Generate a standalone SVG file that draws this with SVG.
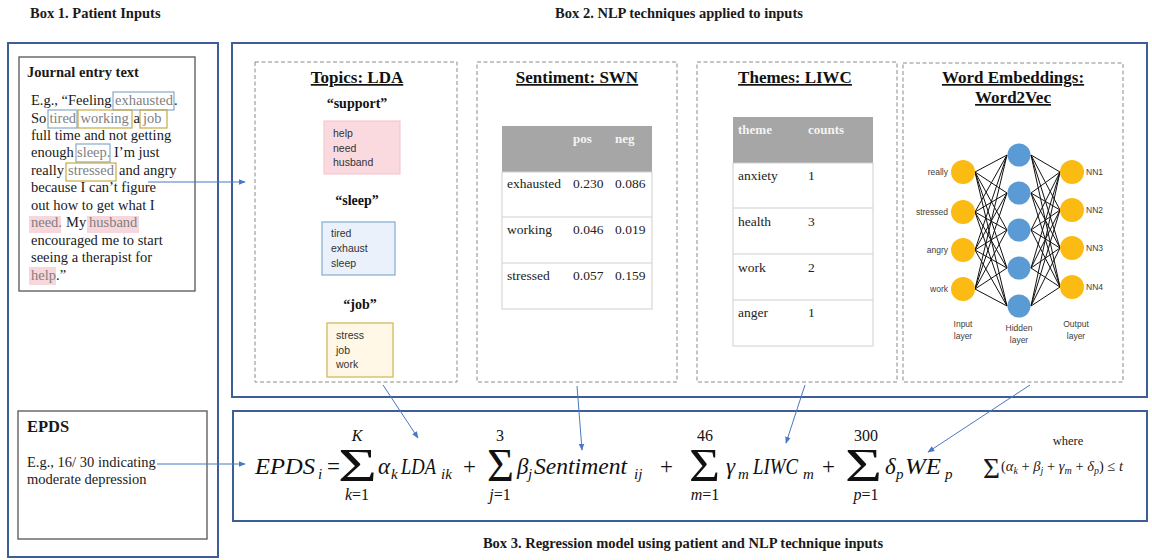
<svg xmlns="http://www.w3.org/2000/svg" width="1152" height="560" viewBox="0 0 1152 560">
<style>
.bt{font-family:"Liberation Serif",serif;font-weight:bold;fill:#1a1a1a}
.st{font-family:"Liberation Serif",serif;fill:#1a1a1a}
.outer{fill:none;stroke:#3d5f98;stroke-width:2}
.inner{fill:#fff;stroke:#555;stroke-width:1.3}
.dash{fill:none;stroke:#8a8a8a;stroke-width:1;stroke-dasharray:4 2.5}
.ttl{font-family:"Liberation Serif",serif;font-weight:bold;font-size:17px;text-anchor:middle;text-decoration:underline;fill:#111}
.tq{font-family:"Liberation Serif",serif;font-weight:bold;font-size:14px;text-anchor:middle;fill:#111}
.wl{font-family:"Liberation Sans",Arial,sans-serif;font-size:10.5px;fill:#333}
.jt{font-family:"Liberation Serif",serif;font-size:14.5px;fill:#1a1a1a}
.hl{fill:#7f7f7f}
.hb{fill:none;stroke:#86a9cc;stroke-width:1.2}
.hy{fill:none;stroke:#c8aa45;stroke-width:1.2}
.hp{fill:#f8d7dc;stroke:none}
.tb{font-family:"Liberation Serif",serif;font-size:13.5px;fill:#222}
.th{font-family:"Liberation Serif",serif;font-weight:bold;font-size:13px;fill:#f4f4f4}
.grid{stroke:#cfcfcf;stroke-width:1;fill:none}
.nl{font-family:"Liberation Sans",Arial,sans-serif;font-size:8.5px;fill:#404040}
.inp{fill:#fbbb12}
.hid{fill:#5b9bd5}
.nn line{stroke:#111;stroke-width:1}
.eq{font-family:"Liberation Serif",serif;font-style:italic;font-size:23px;fill:#111}
.eqs{font-family:"Liberation Serif",serif;font-style:italic;font-size:15px;fill:#111}
.eqn{font-family:"Liberation Serif",serif;font-size:23px;fill:#111}
.sig{font-family:"Liberation Serif",serif;font-size:46px;fill:#111}
.lim{font-family:"Liberation Serif",serif;font-size:16px;fill:#111;text-anchor:middle}
.limi{font-family:"Liberation Serif",serif;font-style:italic;font-size:16px;fill:#111;text-anchor:middle}
.con{stroke:#4a78c2;stroke-width:1;fill:none;marker-end:url(#ah)}
</style>
<defs>
<marker id="ah" viewBox="0 0 10 10" refX="9" refY="5" markerWidth="7" markerHeight="7" orient="auto" markerUnits="userSpaceOnUse">
<path d="M0,1 L10,5 L0,9 z" fill="#4a78c2"/>
</marker>
</defs>
<rect width="1152" height="560" fill="#fff"/>

<!-- Titles -->
<text class="bt" x="30" y="18" font-size="14.5">Box 1. Patient Inputs</text>
<text class="bt" x="679" y="18" font-size="14.5" text-anchor="middle">Box 2. NLP techniques applied to inputs</text>
<text class="bt" x="683" y="548" font-size="14.5" text-anchor="middle">Box 3. Regression model using patient and NLP technique inputs</text>

<!-- Box 1 -->
<g id="box1">
<rect class="outer" x="8" y="43" width="210" height="514"/>
</g>

<g id="journal">
<rect class="inner" x="19" y="57" width="176" height="234"/>
<text class="bt" x="27" y="77" font-size="14.5">Journal entry text</text>
<rect class="hb" x="113" y="92" width="61" height="18"/>
<rect class="hb" x="48" y="110" width="29" height="18"/>
<rect class="hy" x="78" y="110" width="54" height="18"/>
<rect class="hy" x="140" y="110" width="27" height="18"/>
<rect class="hb" x="76" y="144" width="34" height="18"/>
<rect class="hy" x="66" y="163" width="50" height="18"/>
<rect class="hp" x="29" y="216" width="32" height="17"/>
<rect class="hp" x="87" y="216" width="52" height="17"/>
<rect class="hp" x="29" y="267" width="27" height="18"/>
<text class="jt" y="105"><tspan x="31">E.g., “Feeling</tspan><tspan x="115" class="hl">exhausted</tspan><tspan x="174">.</tspan></text>
<text class="jt" y="123"><tspan x="31">So</tspan><tspan x="49.5" class="hl">tired</tspan><tspan x="80.5" class="hl">working</tspan><tspan x="133.5">a</tspan><tspan x="143" class="hl">job</tspan></text>
<text class="jt" x="31" y="140">full time and not getting</text>
<text class="jt" y="157"><tspan x="31">enough</tspan><tspan x="77" class="hl">sleep.</tspan><tspan x="114">I’m just</tspan></text>
<text class="jt" y="175"><tspan x="31">really</tspan><tspan x="68" class="hl">stressed</tspan><tspan x="119">and angry</tspan></text>
<text class="jt" x="31" y="192">because I can’t figure</text>
<text class="jt" x="31" y="210">out how to get what I</text>
<text class="jt" y="227"><tspan x="31" class="hl">need.</tspan><tspan x="66">My</tspan><tspan x="89" class="hl">husband</tspan></text>
<text class="jt" x="31" y="245">encouraged me to start</text>
<text class="jt" x="31" y="262">seeing a therapist for</text>
<text class="jt" y="280"><tspan x="31" class="hl">help</tspan><tspan x="56">.”</tspan></text>
</g>

<g id="epds">
<rect class="inner" x="18" y="411" width="189" height="128"/>
<text class="bt" x="27" y="432" font-size="16.5">EPDS</text>
<text class="jt" x="27" y="467">E.g., 16/ 30 indicating</text>
<text class="jt" x="27" y="484">moderate depression</text>
</g>

<!-- Box 2 -->
<g id="box2">
<rect class="outer" x="232" y="43" width="915" height="354"/>
</g>

<g id="lda">
<rect class="dash" x="255" y="62" width="202" height="320"/>
<text class="ttl" x="357" y="83">Topics: LDA</text>
<text class="tq" x="357" y="108">“support”</text>
<rect x="324" y="121" width="76" height="53" fill="#fadadf" stroke="#f3c1c9"/>
<text class="wl" x="333" y="137">help</text>
<text class="wl" x="333" y="152">need</text>
<text class="wl" x="333" y="166">husband</text>
<text class="tq" x="357" y="205">“sleep”</text>
<rect x="322" y="222" width="73" height="53" fill="#eaf1fa" stroke="#8db2d4" stroke-width="1.3"/>
<text class="wl" x="331" y="237">tired</text>
<text class="wl" x="331" y="252">exhaust</text>
<text class="wl" x="331" y="267">sleep</text>
<text class="tq" x="360" y="309">“job”</text>
<rect x="327" y="323" width="66" height="54" fill="#fff8e6" stroke="#d3b95e" stroke-width="1.3"/>
<text class="wl" x="336" y="339">stress</text>
<text class="wl" x="336" y="354">job</text>
<text class="wl" x="336" y="368">work</text>
</g>

<g id="swn">
<rect class="dash" x="477" y="62" width="200" height="320"/>
<text class="ttl" x="577" y="83">Sentiment: SWN</text>
<rect x="502" y="126" width="150" height="46" fill="#a6a6a6"/>
<rect class="grid" x="502" y="172" width="150" height="137"/>
<line class="grid" x1="502" y1="217" x2="652" y2="217"/>
<line class="grid" x1="502" y1="263" x2="652" y2="263"/>
<text class="th" x="573" y="143">pos</text>
<text class="th" x="615" y="143">neg</text>
<text class="tb" x="507" y="188">exhausted</text>
<text class="tb" x="573" y="188">0.230</text>
<text class="tb" x="615" y="188">0.086</text>
<text class="tb" x="507" y="234">working</text>
<text class="tb" x="573" y="234">0.046</text>
<text class="tb" x="615" y="234">0.019</text>
<text class="tb" x="507" y="280">stressed</text>
<text class="tb" x="573" y="280">0.057</text>
<text class="tb" x="615" y="280">0.159</text>
</g>

<g id="liwc">
<rect class="dash" x="697" y="62" width="200" height="320"/>
<text class="ttl" x="795" y="83">Themes: LIWC</text>
<rect x="733" y="117" width="140" height="46" fill="#a6a6a6"/>
<rect class="grid" x="733" y="163" width="140" height="183"/>
<line class="grid" x1="733" y1="208" x2="873" y2="208"/>
<line class="grid" x1="733" y1="254" x2="873" y2="254"/>
<line class="grid" x1="733" y1="300" x2="873" y2="300"/>
<text class="th" x="738" y="134">theme</text>
<text class="th" x="808" y="134">counts</text>
<text class="tb" x="738" y="180">anxiety</text>
<text class="tb" x="808" y="180">1</text>
<text class="tb" x="738" y="226">health</text>
<text class="tb" x="808" y="226">3</text>
<text class="tb" x="738" y="272">work</text>
<text class="tb" x="808" y="272">2</text>
<text class="tb" x="738" y="317">anger</text>
<text class="tb" x="808" y="317">1</text>
</g>

<g id="word2vec">
<rect class="dash" x="903" y="63" width="220" height="319"/>
<text class="ttl" x="1013" y="83">Word Embeddings:</text>
<text class="ttl" x="1013" y="103">Word2Vec</text>
<g class="nn">
<line x1="975" y1="172" x2="1007" y2="155"/><line x1="975" y1="172" x2="1007" y2="193"/><line x1="975" y1="172" x2="1007" y2="230"/><line x1="975" y1="172" x2="1007" y2="268"/><line x1="975" y1="172" x2="1007" y2="306"/>
<line x1="975" y1="212" x2="1007" y2="155"/><line x1="975" y1="212" x2="1007" y2="193"/><line x1="975" y1="212" x2="1007" y2="230"/><line x1="975" y1="212" x2="1007" y2="268"/><line x1="975" y1="212" x2="1007" y2="306"/>
<line x1="975" y1="250" x2="1007" y2="155"/><line x1="975" y1="250" x2="1007" y2="193"/><line x1="975" y1="250" x2="1007" y2="230"/><line x1="975" y1="250" x2="1007" y2="268"/><line x1="975" y1="250" x2="1007" y2="306"/>
<line x1="975" y1="289" x2="1007" y2="155"/><line x1="975" y1="289" x2="1007" y2="193"/><line x1="975" y1="289" x2="1007" y2="230"/><line x1="975" y1="289" x2="1007" y2="268"/><line x1="975" y1="289" x2="1007" y2="306"/>
<line x1="1031" y1="155" x2="1060" y2="172"/><line x1="1031" y1="155" x2="1060" y2="210"/><line x1="1031" y1="155" x2="1060" y2="248"/><line x1="1031" y1="155" x2="1060" y2="287"/>
<line x1="1031" y1="193" x2="1060" y2="172"/><line x1="1031" y1="193" x2="1060" y2="210"/><line x1="1031" y1="193" x2="1060" y2="248"/><line x1="1031" y1="193" x2="1060" y2="287"/>
<line x1="1031" y1="230" x2="1060" y2="172"/><line x1="1031" y1="230" x2="1060" y2="210"/><line x1="1031" y1="230" x2="1060" y2="248"/><line x1="1031" y1="230" x2="1060" y2="287"/>
<line x1="1031" y1="268" x2="1060" y2="172"/><line x1="1031" y1="268" x2="1060" y2="210"/><line x1="1031" y1="268" x2="1060" y2="248"/><line x1="1031" y1="268" x2="1060" y2="287"/>
<line x1="1031" y1="306" x2="1060" y2="172"/><line x1="1031" y1="306" x2="1060" y2="210"/><line x1="1031" y1="306" x2="1060" y2="248"/><line x1="1031" y1="306" x2="1060" y2="287"/>
</g>
<circle class="inp" cx="963" cy="172" r="12"/><circle class="inp" cx="963" cy="212" r="12"/><circle class="inp" cx="963" cy="250" r="12"/><circle class="inp" cx="963" cy="289" r="12"/>
<circle class="hid" cx="1019" cy="155" r="11.5"/><circle class="hid" cx="1019" cy="193" r="11.5"/><circle class="hid" cx="1019" cy="230" r="11.5"/><circle class="hid" cx="1019" cy="268" r="11.5"/><circle class="hid" cx="1019" cy="306" r="11.5"/>
<circle class="inp" cx="1072" cy="172" r="12"/><circle class="inp" cx="1072" cy="210" r="12"/><circle class="inp" cx="1072" cy="248" r="12"/><circle class="inp" cx="1072" cy="287" r="12"/>
<text class="nl" x="948" y="175" text-anchor="end">really</text>
<text class="nl" x="948" y="215" text-anchor="end">stressed</text>
<text class="nl" x="948" y="253" text-anchor="end">angry</text>
<text class="nl" x="948" y="292" text-anchor="end">work</text>
<text class="nl" x="1086" y="175">NN1</text>
<text class="nl" x="1086" y="213">NN2</text>
<text class="nl" x="1086" y="251">NN3</text>
<text class="nl" x="1086" y="290">NN4</text>
<text class="nl" x="963" y="327" text-anchor="middle">Input</text>
<text class="nl" x="963" y="339" text-anchor="middle">layer</text>
<text class="nl" x="1019" y="331" text-anchor="middle">Hidden</text>
<text class="nl" x="1019" y="343" text-anchor="middle">layer</text>
<text class="nl" x="1076" y="327" text-anchor="middle">Output</text>
<text class="nl" x="1076" y="339" text-anchor="middle">layer</text>
</g>

<!-- Box 3 -->
<g id="box3">
<rect class="outer" x="233" y="411" width="914" height="110"/>
<text class="eq" x="255" y="474" textLength="60" lengthAdjust="spacingAndGlyphs">EPDS</text>
<text class="eqs" x="318" y="479">i</text>
<text class="eqn" x="327" y="474">=</text>
<text class="sig" x="338" y="481" textLength="39" lengthAdjust="spacingAndGlyphs">Σ</text>
<text class="limi" x="357" y="441">K</text>
<text class="lim" x="357" y="500"><tspan font-style="italic">k</tspan>=1</text>
<text class="eq" x="378" y="474">α</text>
<text class="eqs" x="391" y="479">k</text>
<text class="eq" x="401" y="474" textLength="35" lengthAdjust="spacingAndGlyphs">LDA</text>
<text class="eqs" x="441" y="479">ik</text>
<text class="eqn" x="463" y="474">+</text>
<text class="sig" x="487" y="481" textLength="27" lengthAdjust="spacingAndGlyphs">Σ</text>
<text class="lim" x="500" y="441">3</text>
<text class="lim" x="500" y="500"><tspan font-style="italic">j</tspan>=1</text>
<text class="eq" x="517" y="474">β</text>
<text class="eqs" x="528" y="479">j</text>
<text class="eq" x="534" y="474" textLength="93" lengthAdjust="spacingAndGlyphs">Sentiment</text>
<text class="eqs" x="634" y="479">ij</text>
<text class="eqn" x="660" y="474">+</text>
<text class="sig" x="689" y="481" textLength="31" lengthAdjust="spacingAndGlyphs">Σ</text>
<text class="lim" x="705" y="441">46</text>
<text class="lim" x="705" y="500"><tspan font-style="italic">m</tspan>=1</text>
<text class="eq" x="726" y="474">γ</text>
<text class="eqs" x="738" y="479">m</text>
<text class="eq" x="753" y="474" textLength="45" lengthAdjust="spacingAndGlyphs">LIWC</text>
<text class="eqs" x="803" y="479">m</text>
<text class="eqn" x="822" y="474">+</text>
<text class="sig" x="845" y="481" textLength="37" lengthAdjust="spacingAndGlyphs">Σ</text>
<text class="lim" x="866" y="441">300</text>
<text class="lim" x="866" y="500"><tspan font-style="italic">p</tspan>=1</text>
<text class="eq" x="885" y="474">δ</text>
<text class="eqs" x="896" y="479">p</text>
<text class="eq" x="905" y="474" textLength="36" lengthAdjust="spacingAndGlyphs">WE</text>
<text class="eqs" x="945" y="479">p</text>
<text class="st" x="1068" y="445" font-size="12.5" text-anchor="middle">where</text>
<text class="st" x="983" y="478" font-size="30" textLength="17" lengthAdjust="spacingAndGlyphs">Σ</text>
<text class="st" x="1001" y="471" font-size="14.5">(<tspan font-style="italic">α</tspan><tspan font-size="10" font-style="italic" dy="2.5">k</tspan><tspan dy="-2.5"> + </tspan><tspan font-style="italic">β</tspan><tspan font-size="10" font-style="italic" dy="2.5">j</tspan><tspan dy="-2.5"> + </tspan><tspan font-style="italic">γ</tspan><tspan font-size="10" font-style="italic" dy="2.5">m</tspan><tspan dy="-2.5"> + </tspan><tspan font-style="italic">δ</tspan><tspan font-size="10" font-style="italic" dy="2.5">p</tspan><tspan dy="-2.5">) ≤ </tspan><tspan font-style="italic">t</tspan></text>
</g>

<!-- Connectors -->
<g id="connectors">
<line class="con" x1="148" y1="182" x2="245" y2="182"/>
<line class="con" x1="157" y1="464" x2="245" y2="464"/>
<line class="con" x1="383" y1="385" x2="418" y2="438"/>
<line class="con" x1="577" y1="386" x2="582" y2="450"/>
<line class="con" x1="805" y1="385" x2="786" y2="443"/>
<line class="con" x1="1030" y1="385" x2="928" y2="452"/>
</g>
</svg>
